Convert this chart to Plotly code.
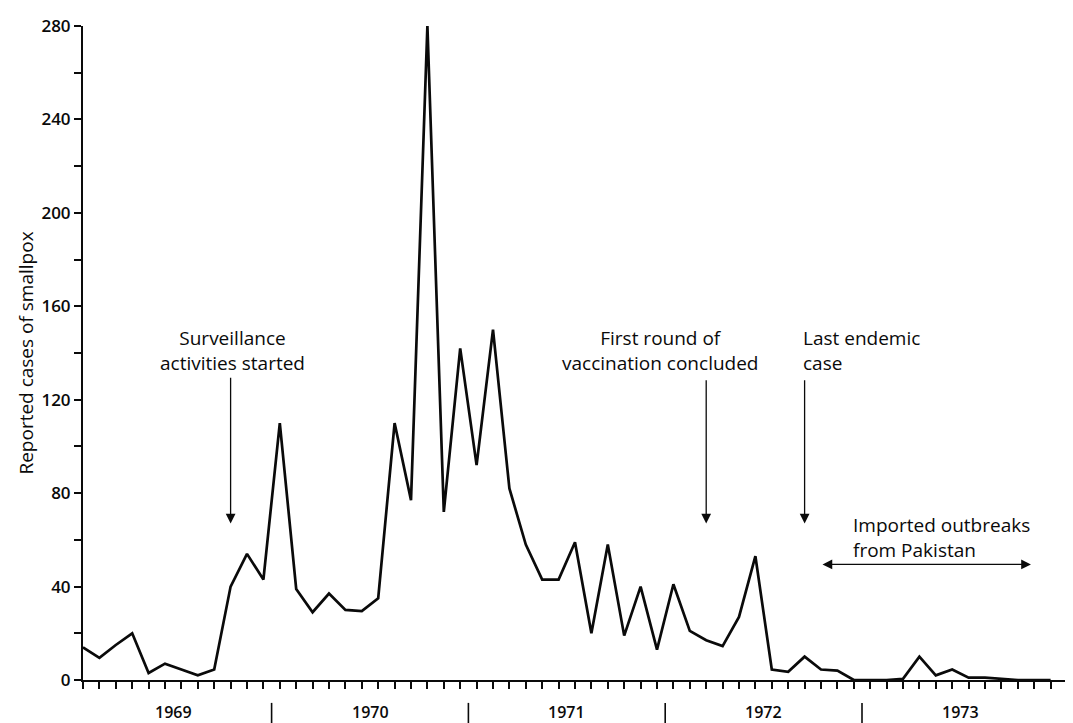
import plotly.graph_objects as go

# ---- data (monthly reported smallpox cases, Jan 1969 - Dec 1973) ----
years = ["1969", "1970", "1971", "1972", "1973"]
cases_1969 = [14, 9.5, 15, 20, 3, 7, 4.5, 2, 4.5, 40, 54, 43]
cases_1970 = [110, 39, 29, 37, 30, 29.5, 35, 110, 77, 280, 72, 142]
cases_1971 = [92, 150, 82, 58, 43, 43, 59, 20, 58, 19, 40, 13]
cases_1972 = [41, 21, 17, 14.5, 27, 53, 4.5, 3.5, 10, 4.5, 4, 0]
cases_1973 = [0, 0, 0.5, 10, 2, 4.5, 1, 1, 0.5, 0, 0, 0]

cases = cases_1969 + cases_1970 + cases_1971 + cases_1972 + cases_1973
months = list(range(len(cases)))  # month index, 0 = Jan 1969

y_ticks = [0, 40, 80, 120, 160, 200, 240, 280]

FONT = "Open Sans"
INK = "#0a0a0a"

fig = go.Figure()
fig.add_trace(go.Scatter(
    x=months, y=cases, mode="lines",
    line=dict(color=INK, width=2.7),
    hoverinfo="x+y", showlegend=False,
))

# year labels and separators
for i, yr in enumerate(years):
    fig.add_annotation(
        x=i * 12 + 5.5, y=-0.049, xref="x", yref="paper",
        text=yr, showarrow=False, yanchor="middle",
        font=dict(family=FONT, size=16, color=INK, weight=600),
    )
for i in range(1, len(years)):
    fig.add_shape(
        type="line", xref="x", yref="paper",
        x0=i * 12 - 0.5, x1=i * 12 - 0.5, y0=-0.035, y1=-0.075,
        line=dict(color=INK, width=1.6),
    )

txt_font = dict(family=FONT, size=19, color=INK)

# text annotations
fig.add_annotation(x=9.1, y=141, text="Surveillance<br>activities started",
                   showarrow=False, xanchor="center", yanchor="middle", font=txt_font)
fig.add_annotation(x=35.2, y=141, text="First round of<br>vaccination concluded",
                   showarrow=False, xanchor="center", yanchor="middle", font=txt_font)
fig.add_annotation(x=43.8, y=141, text="Last endemic<br>case",
                   showarrow=False, xanchor="left", yanchor="middle", align="left", font=txt_font)
fig.add_annotation(x=46.8, y=61, text="Imported outbreaks<br>from Pakistan",
                   showarrow=False, xanchor="left", yanchor="middle", align="left", font=txt_font)

# arrows
arrow_common = dict(text="", showarrow=True, arrowhead=2, arrowsize=1.5,
                    arrowwidth=1.3, arrowcolor=INK, axref="x", ayref="y",
                    xref="x", yref="y", standoff=0)
fig.add_annotation(x=9, y=67, ax=9, ay=130, **arrow_common)
fig.add_annotation(x=38, y=67, ax=38, ay=129, **arrow_common)
fig.add_annotation(x=44, y=67, ax=44, ay=129, **arrow_common)
fig.add_annotation(x=57.8, y=49.5, ax=45, ay=49.5, arrowside="end+start",
                   startarrowhead=2, startarrowsize=1.5, **arrow_common)

# page body adds an 8px offset; figure size / margins compensate for it
fig.update_layout(
    width=1065, height=715, autosize=False,
    margin=dict(l=75, r=6, t=14, b=43),
    paper_bgcolor="white", plot_bgcolor="white",
    font=dict(family=FONT, color=INK),
    xaxis=dict(
        range=[0, 60], tick0=0, dtick=1, ticks="outside", ticklen=7,
        tickwidth=1.5, tickcolor=INK, showticklabels=False,
        showline=True, linewidth=2, linecolor=INK,
        showgrid=False, zeroline=False,
    ),
    yaxis=dict(
        range=[0, 280], tickvals=y_ticks, ticks="outside", ticklen=7,
        tickwidth=1.5, tickcolor=INK,
        tickfont=dict(family=FONT, size=17, color=INK, weight=600),
        showline=True, linewidth=2, linecolor=INK,
        showgrid=False, zeroline=False,
        minor=dict(dtick=20, ticks="outside", ticklen=7, tickwidth=1.5,
                   tickcolor=INK, showgrid=False),
        title=dict(text="Reported cases of smallpox",
                   font=dict(family=FONT, size=19, color=INK), standoff=3),
    ),
)

fig.write_html("out.html")
